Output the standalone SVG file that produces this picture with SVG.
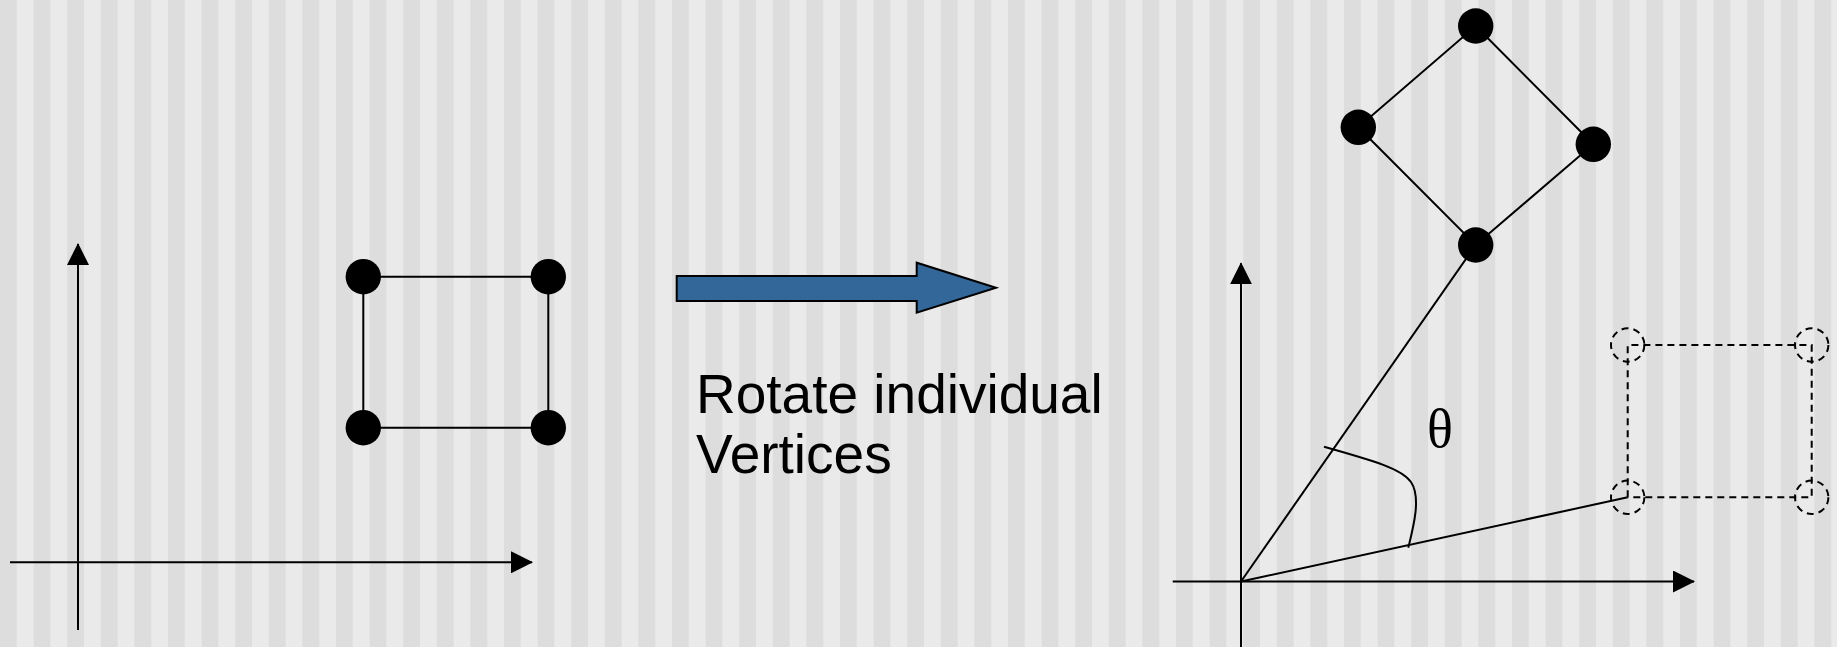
<svg xmlns="http://www.w3.org/2000/svg" width="1837" height="647" viewBox="0 0 1837 647">
  <defs>
    <pattern id="stripes" x="0" y="0" width="33.6" height="647" patternUnits="userSpaceOnUse">
      <rect x="0" y="0" width="16.8" height="647" fill="#dddddd"/>
      <rect x="16.8" y="0" width="16.8" height="647" fill="#eaeaea"/>
    </pattern>
    <marker id="tri" viewBox="0 0 22 22" refX="21" refY="11" markerWidth="22" markerHeight="22" markerUnits="userSpaceOnUse" orient="auto">
      <path d="M0,0 L22,11 L0,22 Z" fill="#000"/>
    </marker>
  </defs>
  <style>
    .ln { stroke: #000; stroke-width: 2; fill: none; }
    .ax { stroke: #000; stroke-width: 2; fill: none; marker-end: url(#tri); }
    .dot { fill: #000; }
    .dash { stroke: #000; stroke-width: 2; fill: none; stroke-dasharray: 7 5; }
    .lbl { font-family: "Liberation Sans", Arial, sans-serif; font-size: 55px; fill: #000; }
    .sym { font-family: "Liberation Serif", "Times New Roman", serif; font-size: 54px; fill: #000; }
  </style>

  <rect x="0" y="0" width="1837" height="647" fill="url(#stripes)"/>

  <!-- left coordinate axes -->
  <g id="left-axes">
    <line class="ln" x1="10" y1="562.3" x2="78" y2="562.3"/>
    <line class="ax" x1="78" y1="562.3" x2="532" y2="562.3"/>
    <line class="ln" x1="78" y1="630" x2="78" y2="562.3"/>
    <line class="ax" x1="78" y1="562.3" x2="78" y2="244"/>
  </g>

  <!-- left square -->
  <g id="left-square">
    <path class="ln" d="M363.3,276.7 H548.3 V427.7 H363.3 Z"/>
    <circle class="dot" cx="363.3" cy="276.7" r="17.7"/>
    <circle class="dot" cx="548.3" cy="276.7" r="17.7"/>
    <circle class="dot" cx="363.3" cy="427.7" r="17.7"/>
    <circle class="dot" cx="548.3" cy="427.7" r="17.7"/>
  </g>

  <!-- block arrow -->
  <g id="block-arrow">
    <path d="M676.7,276 H916.7 V262.7 L996,287.7 L916.7,312.7 V301 H676.7 Z" fill="#336699" stroke="#000" stroke-width="2" stroke-linejoin="miter"/>
  </g>

  <g id="caption">
    <text class="lbl" x="696" y="413.3">Rotate individual</text>
    <text class="lbl" x="696" y="473.3">Vertices</text>
  </g>

  <!-- right coordinate axes -->
  <g id="right-axes">
    <line class="ln" x1="1172.7" y1="581.5" x2="1241" y2="581.5"/>
    <line class="ax" x1="1241" y1="581.5" x2="1694" y2="581.5"/>
    <line class="ln" x1="1241" y1="647" x2="1241" y2="581.5"/>
    <line class="ax" x1="1241" y1="581.5" x2="1241" y2="263.3"/>
  </g>

  <!-- connectors: radius vectors and angle mark -->
  <g id="connectors">
    <line class="ln" x1="1241" y1="581.5" x2="1475.7" y2="245"/>
    <line class="ln" x1="1241" y1="581.5" x2="1627.7" y2="497.3"/>
    <path class="ln" d="M1324,446.7 C1375,461 1402,469 1411,482 C1421,497 1414,525 1408.3,547.7"/>
  </g>

  <g id="theta">
    <text class="sym" x="1440" y="447" text-anchor="middle">θ</text>
  </g>

  <!-- original square, dashed -->
  <g id="original-square">
    <path class="dash" d="M1627.7,497.3 V345 H1811.7 V497.3 H1627.7"/>
    <circle class="dash" cx="1627.7" cy="345" r="16.7"/>
    <circle class="dash" cx="1811.7" cy="345" r="16.7"/>
    <circle class="dash" cx="1627.7" cy="497.3" r="16.7"/>
    <circle class="dash" cx="1811.7" cy="497.3" r="16.7"/>
  </g>

  <!-- rotated square -->
  <g id="rotated-square">
    <path class="ln" d="M1475.7,26 L1593.3,144.3 L1475.7,245 L1358.3,127.3 Z"/>
    <circle class="dot" cx="1475.7" cy="26" r="17.7"/>
    <circle class="dot" cx="1593.3" cy="144.3" r="17.7"/>
    <circle class="dot" cx="1475.7" cy="245" r="17.7"/>
    <circle class="dot" cx="1358.3" cy="127.3" r="17.7"/>
  </g>
</svg>
